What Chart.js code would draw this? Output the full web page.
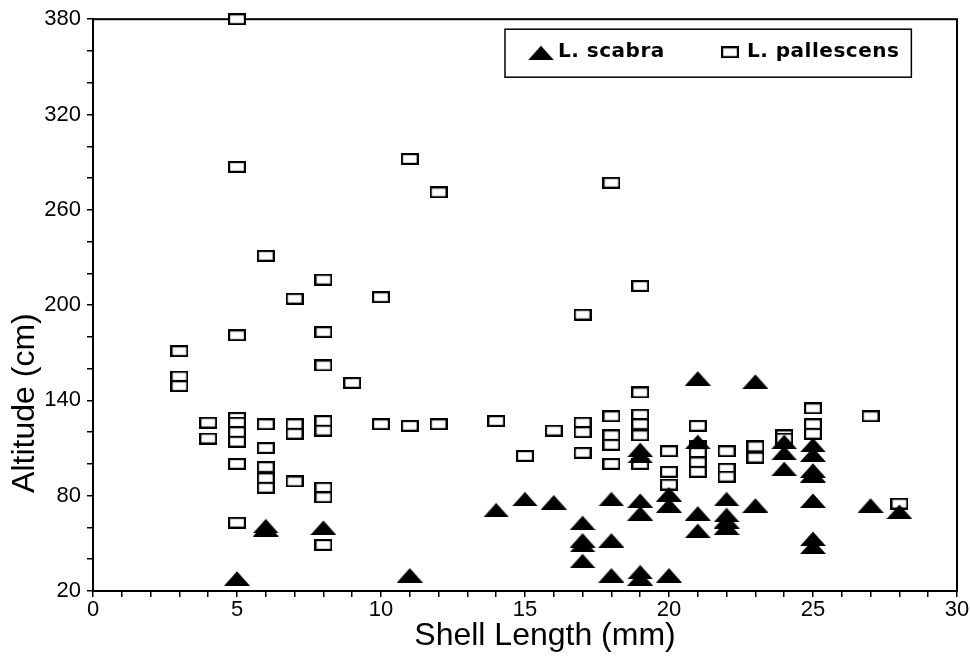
<!DOCTYPE html>
<html>
<head>
<meta charset="utf-8">
<script src="https://cdn.jsdelivr.net/npm/chart.js@4.4.1/dist/chart.umd.min.js"></script>
<style>
html,body{margin:0;padding:0;background:#fff;}
#wrap{width:970px;height:658px;position:relative;}
</style>
</head>
<body>
<div id="wrap"><canvas id="c" width="970" height="658"></canvas></div>
<script>
// ---- Data ----
const seriesNames = ["L. scabra", "L. pallescens"];
const xTitle = "Shell Length (mm)";
const yTitle = "Altitude (cm)";
const xTickLabels = [0, 5, 10, 15, 20, 25, 30];
const yTickLabels = [20, 80, 140, 200, 260, 320, 380];

// L. scabra (filled triangles): shell length (mm)
const scabraX = [5, 6, 6, 8, 11, 14, 15, 16,
  17, 17, 17, 17,
  18, 18, 18,
  19, 19, 19, 19, 19, 19,
  20, 20, 20,
  21, 21, 21, 21,
  22, 22, 22, 22,
  23, 23,
  24, 24, 24,
  25, 25, 25, 25, 25, 25, 25,
  27, 28];
// L. scabra altitude (cm)
const scabraY = [28, 61, 59, 60, 30, 71, 78, 76,
  63, 52, 49, 39,
  78, 52, 30,
  109, 105, 77, 69, 32, 28,
  30, 81, 74,
  154, 114, 69, 58,
  78, 68, 64, 60,
  152, 74,
  114, 107, 97,
  112, 106, 96, 93, 77, 53, 48,
  74, 70];

// L. pallescens (open squares): shell length (mm)
const pallX = [3, 3, 3,
  4, 4,
  5, 5, 5, 5, 5, 5, 5, 5, 5,
  6, 6, 6, 6, 6, 6,
  7, 7, 7, 7,
  8, 8, 8, 8, 8, 8, 8, 8,
  9,
  10, 10,
  11, 11,
  12, 12,
  14, 15, 16,
  17, 17, 17, 17,
  18, 18, 18, 18, 18,
  19, 19, 19, 19, 19, 19,
  20, 20, 20,
  21, 21, 21, 21, 21,
  22, 22, 22,
  23, 23,
  24, 24,
  25, 25, 25,
  27, 28];
// L. pallescens altitude (cm)
const pallY = [171, 155, 149,
  126, 116,
  380, 287, 181, 129, 126, 120, 114, 100, 63,
  231, 125, 110, 98, 91, 85,
  204, 125, 119, 89,
  216, 183, 162, 127, 121, 85, 79, 49,
  151,
  205, 125,
  292, 124,
  271, 125,
  127, 105, 121,
  194, 126, 120, 107,
  277, 130, 118, 112, 100,
  212, 145, 131, 125, 118, 100,
  108, 95, 87,
  124, 111, 107, 101, 95,
  108, 97, 92,
  111, 104,
  118, 116,
  135, 125, 119,
  130, 75];

const toPts = (xs, ys) => xs.map((x, i) => ({x: x, y: ys[i]}));

// ---- Marker images ----
function makeTriangle() {
  const c = document.createElement('canvas');
  c.width = 26; c.height = 15;
  const g = c.getContext('2d');
  g.fillStyle = '#000';
  g.beginPath(); g.moveTo(0, 15); g.lineTo(13, 0.5); g.lineTo(26, 15); g.closePath(); g.fill();
  return c;
}
function makeSquare() {
  const c = document.createElement('canvas');
  c.width = 18; c.height = 12;
  const g = c.getContext('2d');
  g.fillStyle = '#fff';
  g.fillRect(1, 1, 16, 10);
  g.strokeStyle = '#000'; g.lineWidth = 2.2;
  g.strokeRect(1.1, 1.1, 15.8, 9.8);
  return c;
}
const triImg = makeTriangle();
const sqImg = makeSquare();

// ---- Plugins: frame, legend box, axis titles ----
const framePlugin = {
  id: 'frame',
  beforeDatasetsDraw(chart) {
    const a = chart.chartArea, ctx = chart.ctx;
    ctx.save();
    ctx.strokeStyle = '#000'; ctx.lineWidth = 2;
    ctx.strokeRect(a.left, a.top, a.right - a.left, a.bottom - a.top);
    ctx.restore();
  },
  afterDraw(chart) {
    const a = chart.chartArea, ctx = chart.ctx;
    ctx.save();
    // legend box
    const bx = a.left + 412, by = a.top + 10, bh = 48;
    ctx.fillStyle = '#000';
    ctx.font = 'bold 20px "DejaVu Sans"';
    ctx.letterSpacing = '0.5px';
    ctx.textBaseline = 'middle'; ctx.textAlign = 'left';
    const t1 = chart.data.datasets[0].label, t2 = chart.data.datasets[1].label;
    ctx.fillText(t1, bx + 53, by + 23);
    ctx.fillText(t2, bx + 242, by + 23);
    const bw = 242 + ctx.measureText(t2).width + 12;
    ctx.letterSpacing = '0px';
    ctx.strokeStyle = '#000'; ctx.lineWidth = 1.5;
    ctx.strokeRect(bx, by, bw, bh);
    ctx.drawImage(triImg, bx + 36 - 13, by + 23 - 7);
    ctx.drawImage(sqImg, bx + 225 - 9, by + 23 - 6);
    // axis titles
    ctx.font = '32px "Liberation Sans"';
    ctx.textAlign = 'center'; ctx.textBaseline = 'middle';
    ctx.fillText(xTitle, (a.left + a.right) / 2 + 20, a.bottom + 45);
    ctx.translate(a.left - 68, (a.top + a.bottom) / 2 + 98);
    ctx.rotate(-Math.PI / 2);
    ctx.fillText(yTitle, 0, 0);
    ctx.restore();
  }
};

const tickFont = {family: '"Liberation Sans"', size: 22};

new Chart(document.getElementById('c'), {
  type: 'scatter',
  data: {
    datasets: [
      {label: seriesNames[0], data: toPts(scabraX, scabraY), pointStyle: triImg, clip: false,
       backgroundColor: '#000', borderColor: '#000'},
      {label: seriesNames[1], data: toPts(pallX, pallY), pointStyle: sqImg, clip: false,
       backgroundColor: '#fff', borderColor: '#000'}
    ]
  },
  options: {
    responsive: false,
    devicePixelRatio: 1,
    animation: false,
    events: [],
    layout: {padding: {top: 14, right: 13, left: 0, bottom: 0}},
    plugins: {legend: {display: false}, tooltip: {enabled: false}},
    scales: {
      x: {
        type: 'linear', min: 0, max: 30,
        afterFit(s) { s.height = 67; },
        border: {display: true, color: '#000', width: 2},
        grid: {drawOnChartArea: false, drawTicks: true, tickLength: 6, color: '#000', lineWidth: 1.5},
        ticks: {stepSize: 1, autoSkip: false, maxRotation: 0, color: '#000', font: tickFont, padding: 0,
          callback: (v) => xTickLabels.includes(v) ? String(v) : ''}
      },
      y: {
        type: 'linear', min: 20, max: 380,
        afterFit(s) { s.width = 93; },
        border: {display: true, color: '#000', width: 2},
        grid: {drawOnChartArea: false, drawTicks: true, tickLength: 6, color: '#000', lineWidth: 1.5},
        ticks: {stepSize: 20, autoSkip: false, color: '#000', font: tickFont, padding: 6,
          callback: (v) => yTickLabels.includes(v) ? String(v) : ''}
      }
    }
  },
  plugins: [framePlugin]
});
</script>
</body>
</html>
